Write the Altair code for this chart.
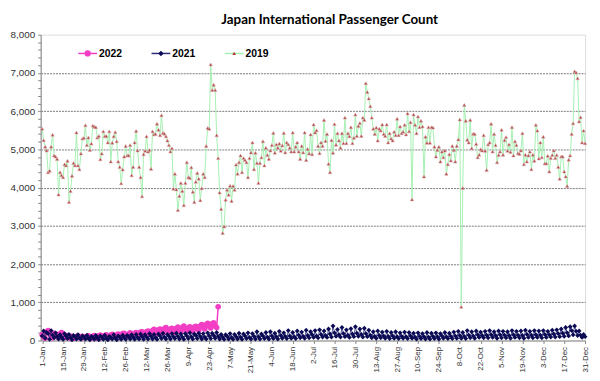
import json
import altair as alt
import pandas as pd

title_text = "Japan International Passenger Count"
tick_labels = ["1-Jan", "15-Jan", "29-Jan", "12-Feb", "26-Feb", "12-Mar", "26-Mar", "9-Apr",
               "23-Apr", "7-May", "21-May", "4-Jun", "18-Jun", "2-Jul", "16-Jul", "30-Jul",
               "13-Aug", "27-Aug", "10-Sep", "24-Sep", "8-Oct", "22-Oct", "5-Nov", "19-Nov",
               "3-Dec", "17-Dec", "31-Dec"]
series_names = ["2022", "2021", "2019"]

v2019 = [
    5540, 5240, 5070, 4970, 4400, 4440, 5070, 5380, 4840, 4810,
    4750, 3820, 4400, 4320, 4270, 4610, 4580, 4700, 3620, 3910,
    4310, 4640, 4580, 5440, 4580, 4480, 4890, 5280, 5300, 5630,
    5110, 5310, 4980, 5150, 5620, 5590, 5580, 5310, 5350, 4740,
    4890, 5470, 5340, 5350, 5180, 5470, 4680, 5170, 5340, 5450,
    5210, 4680, 4540, 4110, 4470, 4810, 5090, 4840, 4840, 5110,
    4320, 4540, 5180, 5480, 4970, 4540, 4270, 3770, 4870, 4960,
    5340, 4940, 4980, 4490, 5470, 5390, 5400, 5670, 5510, 5370,
    5890, 5430, 5410, 5340, 5230, 5110, 4940, 5030, 3970, 4360,
    3950, 3410,
    3780, 4120, 3910, 3540, 4120, 4660, 4270, 4250, 4530, 3890,
    3620, 4150, 4380, 4230, 3670, 3980, 4360, 4270, 5090, 5560,
    5540, 7220, 6550, 6690, 6550, 5370, 4770, 3870, 3440, 2810,
    2980, 3680, 3940, 3810, 4050, 3650, 4040, 3940, 4600, 4360,
    4660, 4840, 4400, 4770, 4720, 4660, 4270, 4770, 4920, 5180,
    4480, 4910, 4640, 4120, 4640, 4790, 5210, 4580, 5040, 4850,
    4750, 4970, 5110, 5430, 4910, 5130, 5040, 5150, 4960, 5100,
    5430, 4920, 5180, 5130, 5040, 4940, 5440, 4940, 5070, 5180,
    4940, 4750, 5090, 4920, 5440, 4720, 5010, 4890, 5390, 4870,
    5650, 5440, 5500,
    5090, 4900, 5180, 5090, 5770, 5220, 5400, 4620, 4400, 5240,
    4910, 5660, 5120, 5420, 5230, 5040, 5420, 5160, 5830, 5160,
    5420, 5340, 5580, 5160, 5300, 5910, 5350, 5610, 5690, 5350,
    5830, 5770, 6730, 6500, 6330, 6130, 5830, 5540, 5400, 5570,
    5230, 5540, 5490, 5650, 5400, 5350, 5650, 5180, 5420, 5280,
    5230, 5460, 5370, 5800, 5370, 5600, 5420, 5460, 5640, 5390,
    5940, 5470, 5710, 3690, 5910, 5640, 5420, 5860, 5580, 5750,
    5600, 4290, 5330, 5170, 5580, 5170, 5580, 5570, 5070, 4810,
    4980, 5070, 4680, 4940, 4790, 4970, 4360, 4610, 4870, 4710,
    5090,
    4980, 4680, 5090, 5260, 5780, 880, 3990, 6160, 5750, 5250,
    5180, 5770, 5030, 5410, 5400, 5140, 4790, 4860, 5000, 4970,
    5370, 4960, 4460, 5130, 5180, 5670, 4940, 5400, 5110, 4660,
    4850, 4940, 5510, 4860, 5240, 5320, 4960, 5130, 4930, 5580,
    4840, 5210, 5110, 4900, 4880, 4970, 5420, 4610, 4860, 4680,
    4840, 4940, 4480, 4860, 4700, 5640, 5490, 4760, 5180, 4790,
    5330, 4630, 4630, 4830, 4420, 4770, 4850, 4970, 4770, 4850,
    4540, 4230, 4810, 4810, 4420, 4290, 4040, 4730, 4840, 5400,
    5680, 7040, 7010, 6860, 5730, 5840, 5180, 5490, 5160,
]

v2021 = [
    # Jan
    120, 250, 60, 210, 180, 30, 260, 140, 70, 200, 110, 40, 150, 90, 30, 180, 120, 50, 160, 80,
    20, 130, 100, 40, 150, 70, 30, 120, 90, 40, 140,
    # Feb
    60, 20, 110, 80, 30, 130, 70, 20, 120, 90, 30, 140, 60, 20, 110, 80, 40, 150, 70, 20,
    120, 90, 30, 140, 80, 30, 130, 100,
    # Mar
    40, 150, 90, 30, 160, 80, 40, 170, 100, 30, 150, 90, 40, 180, 110, 40, 160, 80, 30, 170,
    120, 50, 190, 90, 40, 160, 110, 40, 180, 100, 50,
    # Apr
    190, 110, 40, 170, 90, 30, 180, 120, 50, 200, 100, 40, 170, 130, 50, 190, 110, 40, 180, 90,
    40, 200, 120, 50, 190, 130, 60, 210, 110, 40,
    # May
    160, 90, 30, 150, 110, 40, 180, 80, 30, 160, 100, 40, 190, 90, 30, 170, 120, 50, 200, 80,
    40, 180, 110, 40, 230, 100, 40, 170, 120, 50, 210,
    # Jun
    90, 40, 230, 120, 50, 190, 100, 40, 240, 130, 60, 200, 110, 50, 260, 120, 60, 210, 100, 50,
    250, 140, 70, 220, 110, 60, 270, 130, 70, 230,
    # Jul
    150, 80, 260, 120, 70, 280, 160, 90, 250, 130, 80, 300, 170, 90, 380, 200, 110, 290, 150, 90,
    340, 180, 100, 280, 140, 80, 310, 170, 100, 360, 190,
    # Aug
    110, 300, 160, 90, 320, 180, 100, 270, 140, 70, 230, 110, 60, 250, 130, 70, 220, 120, 60, 240,
    110, 50, 210, 120, 60, 230, 100, 50, 200, 110, 60,
    # Sep
    220, 100, 50, 210, 120, 60, 190, 90, 40, 200, 110, 50, 180, 100, 40, 210, 90, 40, 190, 110,
    50, 200, 100, 40, 180, 120, 60, 210, 100, 50,
    # Oct
    190, 110, 50, 220, 120, 60, 240, 130, 60, 210, 110, 50, 260, 140, 70, 230, 120, 60, 250, 150,
    80, 220, 130, 70, 240, 140, 70, 260, 150, 80, 230,
    # Nov
    130, 60, 250, 150, 70, 240, 140, 70, 230, 130, 60, 260, 150, 80, 240, 140, 70, 250, 130, 60,
    270, 160, 80, 240, 140, 70, 260, 150, 80, 250,
    # Dec
    140, 70, 260, 160, 80, 240, 150, 90, 270, 170, 90, 280, 180, 100, 300, 190, 110, 340, 200, 120,
    360, 260, 150, 380, 240, 130, 250, 140, 80, 160, 100,
]

v2022 = [
    # Jan
    150, 90, 60, 230, 260, 180, 120, 70, 190, 140, 100, 160, 90, 210, 170, 120, 80, 130, 100, 60,
    110, 90, 60, 100, 120, 80, 60, 110, 90, 70, 100,
    # Feb
    120, 90, 60, 110, 130, 80, 60, 120, 140, 100, 70, 130, 150, 100, 80, 140, 160, 110, 90, 150,
    170, 120, 100, 180, 190, 140, 110, 170,
    # Mar
    200, 150, 120, 190, 210, 160, 130, 220, 230, 170, 140, 230, 250, 190, 160, 260, 290, 220, 180, 280,
    300, 240, 200, 310, 340, 260, 220, 300, 320, 250, 210,
    # Apr
    320, 350, 270, 230, 340, 380, 290, 250, 330, 360, 280, 240, 350, 370, 300, 260, 380, 420, 340, 300,
    420, 450, 370, 330, 440, 460, 380, 340, 880,
]

df22 = pd.DataFrame({"day": list(range(len(v2022))), "count": v2022})
df21 = pd.DataFrame({"day": list(range(len(v2021))), "count": v2021})
df19 = pd.DataFrame({"day": list(range(len(v2019))), "count": v2019})

c22 = "#F23EC4"
c21_pt = "#0B0B55"
c21_ln = "#2E2E78"
c19_ln = "#A6F0B2"
c19_pt = "#B23A3A"

label_expr = json.dumps(tick_labels) + "[round(datum.value / 14)]"

x_enc = alt.X(
    "day:Q",
    scale=alt.Scale(domain=[-1, 364], nice=False, zero=False),
    axis=alt.Axis(
        values=list(range(0, 365, 14)), labelExpr=label_expr, labelAngle=270,
        title=None, grid=False, labelFontSize=8,
        labelFont="Liberation Sans Narrow, Arial Narrow, Liberation Sans",
        labelColor="#333333", domainColor="#868686", tickColor="#868686", tickSize=3,
        labelPadding=3, labelOverlap=False,
    ),
)
y_enc = alt.Y(
    "count:Q",
    scale=alt.Scale(domain=[0, 8000], nice=False),
    axis=alt.Axis(
        values=list(range(0, 8001, 200)),
        labelExpr="datum.value % 1000 === 0 ? format(datum.value, ',') : ''",
        title=None, labelFontSize=10, labelFont="Liberation Sans", labelColor="#333333",
        domainColor="#868686", tickColor="#868686", tickSize=3, labelPadding=3,
        labelOverlap=False,
        gridColor="#7a7a7a", gridDash=[2, 1], gridWidth=1,
        gridOpacity={"condition": {"test": "datum.value % 1000 === 0 && datum.value > 0 && datum.value < 8000", "value": 1}, "value": 0},
    ),
)

line22 = alt.Chart(df22).mark_line(color=c22, strokeWidth=1.5).encode(x=x_enc, y=y_enc)
pts22 = alt.Chart(df22).mark_point(shape="circle", filled=True, color=c22, size=32, opacity=1).encode(x=x_enc, y=y_enc)
line21 = alt.Chart(df21).mark_line(color=c21_ln, strokeWidth=0.8).encode(x=x_enc, y=y_enc)
pts21 = alt.Chart(df21).mark_point(shape="diamond", filled=True, color=c21_pt, size=24, opacity=1).encode(x=x_enc, y=y_enc)
line19 = alt.Chart(df19).mark_line(color=c19_ln, strokeWidth=1).encode(x=x_enc, y=y_enc)
pts19 = alt.Chart(df19).mark_point(shape="triangle-up", filled=True, fill=c19_pt, stroke="#D9B3B3",
                                   strokeWidth=0.6, size=12, opacity=1).encode(x=x_enc, y=y_enc)

# legend (drawn inside plot area, top-left)
legend_layers = []
legend_specs = [
    (series_names[0], c22, c22, "circle", 40, 38),
    (series_names[1], c21_ln, c21_pt, "diamond", 30, 112),
    (series_names[2], c19_ln, c19_pt, "triangle-up", 14, 186),
]
for name, lc, pc, shp, sz, x0 in legend_specs:
    d = pd.DataFrame({"series": [name]})
    legend_layers.append(
        alt.Chart(d).mark_rule(color=lc, strokeWidth=1.5).encode(
            x=alt.value(x0), x2=alt.value(x0 + 19), y=alt.value(19))
    )
    legend_layers.append(
        alt.Chart(d).mark_point(shape=shp, filled=True, color=pc, size=sz, opacity=1).encode(
            x=alt.value(x0 + 9.5), y=alt.value(19))
    )
    legend_layers.append(
        alt.Chart(d).mark_text(align="left", baseline="middle", font="Liberation Sans",
                               fontWeight="bold", fontSize=10.5, color="#000000").encode(
            x=alt.value(x0 + 21), y=alt.value(19.5), text="series:N")
    )

chart = alt.layer(
    line22, pts22, line21, pts21, line19, pts19, *legend_layers
).properties(
    width=550, height=309,
    title=alt.TitleParams(title_text, font="Lato", fontSize=13.5, fontWeight="bold",
                          color="#000000", anchor="middle", dx=17, dy=0, offset=3),
    autosize=alt.AutoSizeParams(type="none"),
    padding={"left": 33, "top": 25, "right": 7, "bottom": 40},
).configure_view(
    fill="#FCF4DA", stroke="#868686", strokeWidth=1
).configure(background="#FFFFFF")

chart.save("out.html", embed_options={"renderer": "svg", "actions": False})
